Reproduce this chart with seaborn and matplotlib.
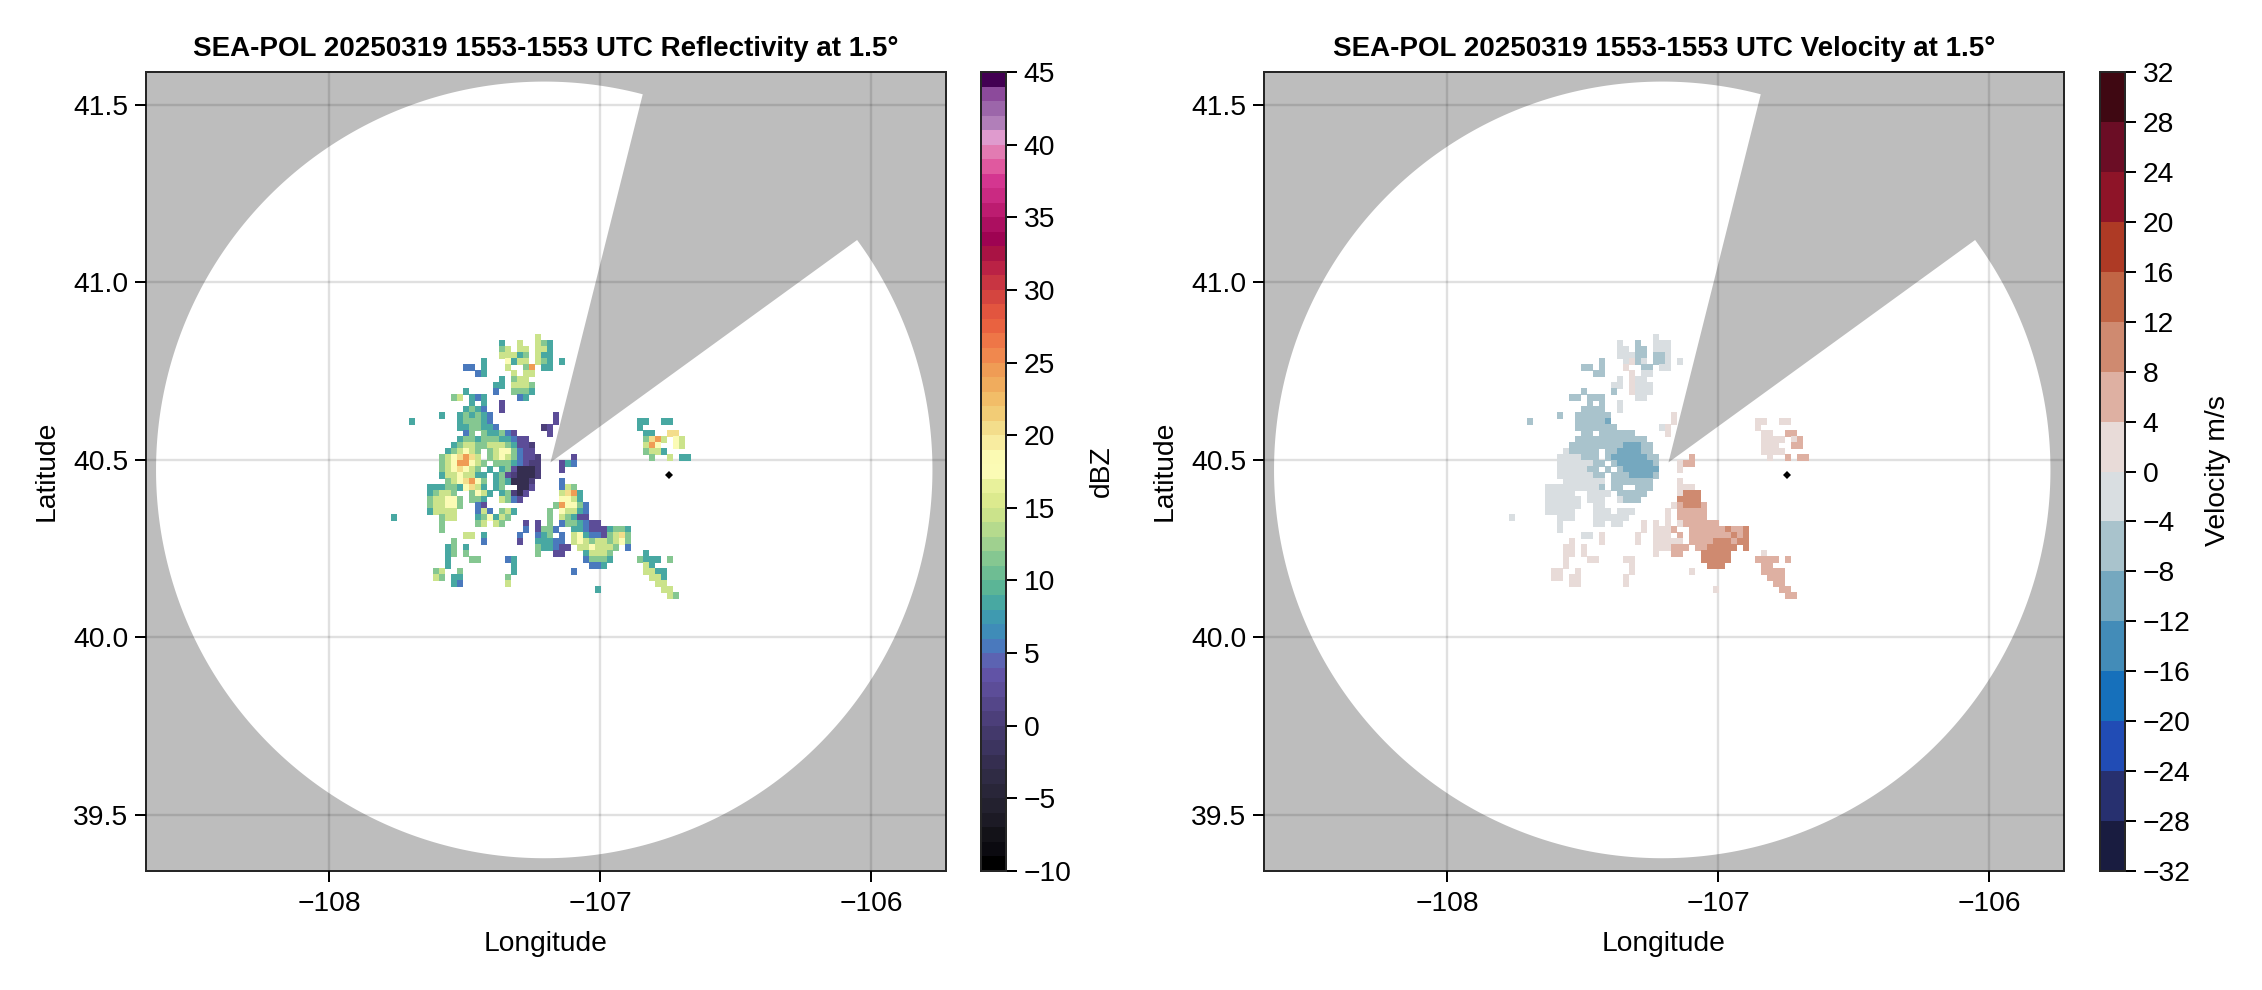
import numpy as np
import pandas as pd
import matplotlib
matplotlib.use("Agg")
import matplotlib.pyplot as plt
from matplotlib.colors import ListedColormap, BoundaryNorm
from matplotlib.cm import ScalarMappable
import seaborn as sns

W, H = 2262, 990
GRAY = "#bdbdbd"

# Echo field: row -> [(first column, level codes), ...]
Z_LEVEL = {"x": -3, "0": 0, "1": 2, "2": 5, "3": 8, "4": 11, "5": 14, "6": 17, "7": 20, "8": 24}
Z_ROWS = {
    0: [(25, "5")],
    1: [(19, "3"), (22, "5"), (25, "543")],
    2: [(19, "45"), (22, "55"), (25, "553")],
    3: [(19, "555"), (22, "34"), (25, "533")],
    4: [(16, "3"), (20, "63"), (22, "55"), (25, "54"), (27, "3"), (29, "3")],
    5: [(13, "22"), (16, "3"), (20, "5"), (23, "48"), (26, "3"), (27, "3")],
    6: [(15, "23"), (21, "5"), (23, "55")],
    7: [(19, "3"), (21, "4"), (22, "55")],
    8: [(18, "33"), (21, "5554")],
    9: [(13, "3"), (18, "2"), (21, "4443")],
    10: [(11, "45"), (14, "323"), (22, "23")],
    11: [(14, "3.3"), (19, "1")],
    12: [(13, "3432"), (19, "1")],
    13: [(9, "3"), (12, "343432"), (28, "1")],
    14: [(4, "3"), (12, "344432"), (28, "1"), (42, "33"), (46, "33")],
    15: [(12, "3344332"), (26, "0"), (27, "1"), (42, "3")],
    16: [(13, "24.433421"), (27, "1"), (43, "33"), (47, "77")],
    17: [(12, "344344433211"), (43, "4785"), (48, "65")],
    18: [(11, "34554455543110"), (43, "586"), (48, "65")],
    19: [(10, "345654.4566421"), (24, "1"), (43, "4553")],
    20: [(9, "4567875.456542110"), (31, "1"), (44, "4"), (47, "5"), (49, "33")],
    21: [(9, "45688654.44432100"), (29, "132")],
    22: [(9, "4567654.3.341xxx0"), (29, "1")],
    23: [(9, "35565533.3410xxx0")],
    24: [(10, "4567864.343xxx0"), (29, "2")],
    25: [(7, "3334"), (11, "436753"), (18, "34"), (22, "xx1"), (29, "254")],
    26: [(7, "34554"), (14, "4653"), (19, "34"), (21, "0x1"), (29, "5783")],
    27: [(7, "455664"), (14, "443"), (19, "5421"), (29, "6653")],
    28: [(7, "455664"), (15, "21"), (28, "486642")],
    29: [(7, "35555"), (15, "252"), (19, "453"), (27, "4"), (29, "65532")],
    30: [(1, "3"), (9, "455"), (15, "346354"), (27, "4"), (29, "5431"), (33, "1")],
    31: [(9, "4"), (15, "45"), (18, "54"), (23, "1"), (25, "1"), (27, "4"), (29, "2"), (30, "443211")],
    32: [(9, "4"), (23, "2"), (25, "1"), (26, "44"), (28, "2"), (31, "332111"), (37, "3443")],
    33: [(13, "55"), (16, "3"), (22, "2"), (25, "2"), (26, "34"), (29, "2"), (31, "56"), (33, "3221"), (37, "4574")],
    34: [(11, "4"), (16, "2"), (22, "1"), (25, "3"), (26, "3322"), (31, "565"), (34, "4554"), (38, "564")],
    35: [(10, "34"), (13, "3"), (25, "4"), (26, "33211"), (32, "5565554"), (40, "2")],
    36: [(10, "34"), (13, "4"), (25, "4"), (28, "11"), (33, "35554"), (43, "3")],
    37: [(10, "3"), (14, "44"), (20, "23"), (33, "24443"), (42, "4333"), (47, "4")],
    38: [(10, "3"), (21, "3"), (34, "223"), (43, "53")],
    39: [(8, "45"), (12, "4"), (21, "3"), (31, "2"), (43, "55"), (45, "33")],
    40: [(8, "54"), (11, "33"), (20, "4"), (44, "553")],
    41: [(11, "32"), (20, "5"), (45, "55")],
    42: [(35, "3"), (46, "55")],
    43: [(47, "54")],
}

V_LEVEL = {"a": -10, "b": -6, "c": -2, "d": 2, "e": 6, "f": 10}
V_ROWS = {
    0: [(25, "c")],
    1: [(19, "c"), (22, "b"), (25, "ccc")],
    2: [(19, "cc"), (22, "bb"), (25, "ccc")],
    3: [(19, "ccc"), (22, "bb"), (25, "bbc")],
    4: [(16, "b"), (20, "cd"), (22, "bc"), (25, "bb"), (27, "c"), (29, "c")],
    5: [(13, "bb"), (16, "b"), (20, "d"), (23, "bb"), (26, "c"), (27, "c")],
    6: [(15, "bb"), (21, "d"), (23, "cc")],
    7: [(19, "c"), (21, "d"), (22, "cc")],
    8: [(18, "cc"), (21, "dccc")],
    9: [(13, "b"), (18, "b"), (21, "dccc")],
    10: [(11, "bb"), (14, "bbb"), (22, "cc")],
    11: [(14, "b.b"), (19, "c")],
    12: [(13, "bbbb"), (19, "c")],
    13: [(9, "b"), (12, "bbbbbb"), (28, "d")],
    14: [(4, "b"), (12, "bbbbba"), (28, "d"), (42, "dd"), (46, "dd")],
    15: [(12, "bbbbbbb"), (26, "c"), (27, "d"), (42, "d")],
    16: [(13, "bb.bbbbbb"), (27, "d"), (43, "dd"), (47, "ee")],
    17: [(12, "bbbbbbbbbbbb"), (43, "dddd"), (48, "de")],
    18: [(11, "bbbbbbbbbaaabb"), (43, "ddd"), (48, "ee")],
    19: [(10, "cbbbbb.bbaaaab"), (24, "b"), (43, "dddd")],
    20: [(9, "ccccbbb.baaaaaabb"), (31, "e"), (44, "d"), (47, "e"), (49, "ee")],
    21: [(9, "ccccccbb.baaaaaab"), (29, "dee")],
    22: [(9, "cccccbb.b.baaaaaa"), (29, "d")],
    23: [(9, "ccccccbb.bbbaaaab")],
    24: [(10, "ccccccc.bbbbbbb"), (29, "d")],
    25: [(7, "cccc"), (11, "cccccb"), (18, "bb"), (22, "bbb"), (29, "ddd")],
    26: [(7, "ccccc"), (14, "cccc"), (19, "bb"), (21, "bbb"), (29, "dfff")],
    27: [(7, "cccccc"), (14, "ccc"), (19, "cbbb"), (29, "ffff")],
    28: [(7, "cccccc"), (15, "cc"), (28, "defffe")],
    29: [(7, "ccccc"), (15, "ccc"), (19, "ccc"), (27, "d"), (29, "eeeee")],
    30: [(1, "c"), (9, "ccc"), (15, "cccccc"), (27, "d"), (29, "eeee"), (33, "e")],
    31: [(9, "c"), (15, "cc"), (18, "cc"), (23, "d"), (25, "d"), (27, "d"), (29, "d"), (30, "eeeeee")],
    32: [(9, "c"), (23, "d"), (25, "d"), (26, "dd"), (28, "e"), (31, "eeeeee"), (37, "feef")],
    33: [(13, "cc"), (16, "d"), (22, "d"), (25, "d"), (26, "dd"), (29, "e"), (31, "ee"), (33, "eeee"), (37, "efef")],
    34: [(11, "d"), (16, "d"), (22, "d"), (25, "d"), (26, "dddd"), (31, "eee"), (34, "efff"), (38, "eff")],
    35: [(10, "dd"), (13, "d"), (25, "d"), (26, "ddeee"), (32, "eefffff"), (40, "f")],
    36: [(10, "dd"), (13, "d"), (25, "d"), (28, "ee"), (33, "fffff"), (43, "d")],
    37: [(10, "d"), (14, "dd"), (20, "dd"), (33, "fffff"), (42, "eeee"), (47, "e")],
    38: [(10, "d"), (21, "d"), (34, "fff"), (43, "ee")],
    39: [(8, "dd"), (12, "d"), (21, "d"), (31, "d"), (43, "ee"), (45, "ee")],
    40: [(8, "dd"), (11, "dd"), (20, "d"), (44, "eee")],
    41: [(11, "dd"), (20, "d"), (45, "ee")],
    42: [(35, "d"), (46, "ee")],
    43: [(47, "ee")],
}

Z_COLORS = ["#000000", "#0b0a10", "#131218", "#1c1a25", "#23212f", "#292639", "#2f2b44", "#352e50", "#3c345f", "#43396b",
            "#4c3f7a", "#544689", "#5c4d98", "#6153a6", "#5c63b2", "#4a79bd", "#3f8cb8", "#3f9ab0", "#48a8a2", "#5bb596",
            "#6ebd93", "#85c791", "#9fd08f", "#b5da8d", "#cbe38b", "#dcea8e", "#e8f19b", "#fbfbb5", "#fbfab3", "#f8eca0",
            "#f3dd8b", "#f2cc76", "#f2bd68", "#f0ac5d", "#ef9c55", "#f0884e", "#ee7647", "#e96240", "#e2553f", "#d4453f",
            "#c83542", "#ba2245", "#a91344", "#9e0352", "#ac0f60", "#bc1c70", "#ca2a82", "#d43690", "#e0599f", "#e27bb2",
            "#df9bce", "#b17fb9", "#9c66aa", "#8c4a9b", "#6d2577", "#420052"]
Z_BOUNDS = list(range(-10, 46))
Z_TICKS = list(range(-10, 46, 5))

V_COLORS = ["#191c40", "#27306f", "#214cb5", "#1670bb", "#438cb8", "#75a8bf", "#a9c3cc", "#d9dee1",
            "#e8dbd8", "#deb0a2", "#cf8a70", "#c16545", "#ae3a25", "#8e1428", "#6b0d25", "#3f0812"]
V_BOUNDS = list(range(-32, 33, 4))
V_TICKS = list(range(-32, 33, 4))

LON_LIM = (-108.675, -105.724)
LAT_LIM = (39.342, 41.593)
LON_TICKS = [-108, -107, -106]
LAT_TICKS = [39.5, 40.0, 40.5, 41.0, 41.5]
SITE = (-106.747, 40.457)
DISK_CENTER = (-107.206, 40.472)
DISK_RADII = (1.432, 1.094)
BLOCK_APEX = (-107.183, 40.493)
BLOCK_AZ = (14.7, 53.7)

# Grid the echo field sits on
CELL_LON, CELL_LAT = 6 / 271.3, 6 / 355.0
GRID_LON0 = -108 + (388 - 329) / 271.3
GRID_LAT0 = 40.5 - (339 - 461.6) / 355.0
FS = 20.3


def field(rows, lookup):
    out = []
    for r, segs in rows.items():
        for start, codes in segs:
            for k, c in enumerate(codes):
                if c != ".":
                    out.append((GRID_LON0 + (start + k) * CELL_LON, GRID_LAT0 - r * CELL_LAT, lookup[c]))
    return pd.DataFrame(out, columns=["lon", "lat", "val"])


sns.set_theme(style="ticks")
plt.rcParams.update({
    "font.family": ["Liberation Sans", "DejaVu Sans"],
    "axes.linewidth": 1.44,
    "axes.unicode_minus": True,
    "text.color": "black", "axes.labelcolor": "black",
    "xtick.color": "black", "ytick.color": "black",
})

fig = plt.figure(figsize=(W / 100, H / 100), dpi=100)


def frac(x0, x1, y0, y1):
    return [x0 / W, 1 - y1 / H, (x1 - x0) / W, (y1 - y0) / H]


def panel(x0, cbx0, title, rows, lookup, colors, bounds, ticks, cb_label, cb_label_x):
    ax = fig.add_axes(frac(x0, x0 + 800, 72, 871))
    ax.set_facecolor(GRAY)
    az = np.radians(np.linspace(BLOCK_AZ[1], BLOCK_AZ[0] + 360, 720))
    px = np.r_[DISK_CENTER[0] + DISK_RADII[0] * np.sin(az), BLOCK_APEX[0]]
    py = np.r_[DISK_CENTER[1] + DISK_RADII[1] * np.cos(az), BLOCK_APEX[1]]
    ax.fill(px, py, color="white", lw=0, zorder=1)
    ax.grid(True, color="black", alpha=0.12, lw=1.7, zorder=2)
    ax.set_axisbelow(False)
    for ln in ax.get_xgridlines() + ax.get_ygridlines():
        ln.set_zorder(2)

    cmap = ListedColormap(colors)
    norm = BoundaryNorm(bounds, cmap.N)
    df = field(rows, lookup)
    sns.scatterplot(data=df, x="lon", y="lat", hue="val", palette=cmap, hue_norm=norm,
                    marker="s", s=21, linewidth=0, legend=False, ax=ax, zorder=3)
    ax.plot(*SITE, marker="D", color="black", ms=4.2, mew=0, zorder=4)

    ax.set_xlim(LON_LIM)
    ax.set_ylim(LAT_LIM)
    ax.set_xticks(LON_TICKS)
    ax.set_yticks(LAT_TICKS)
    ax.set_yticklabels([f"{t:.1f}" for t in LAT_TICKS])
    ax.tick_params(length=7.7, width=1.44, labelsize=FS, pad=5)
    ax.tick_params(axis="x", pad=6.5)
    ax.set_xlabel("")
    ax.set_ylabel("")
    fig.text((x0 + 400) / W, 1 - 944 / H, "Longitude", ha="center", va="center", fontsize=FS)
    fig.text((x0 - 99) / W, 1 - 471 / H, "Latitude", ha="center", va="center", rotation=90, fontsize=FS)
    fig.text((x0 + 400) / W, 1 - 48.5 / H, title, ha="center", va="center", fontsize=20, fontweight="bold")

    cax = fig.add_axes(frac(cbx0, cbx0 + 25, 72, 871))
    cb = fig.colorbar(ScalarMappable(norm=norm, cmap=cmap), cax=cax, ticks=ticks, spacing="proportional")
    cb.minorticks_off()
    cb.outline.set_linewidth(1.44)
    cb.ax.tick_params(length=7.7, width=1.44, labelsize=FS, pad=5)
    fig.text(cb_label_x / W, 1 - 471 / H, cb_label, ha="center", va="center", rotation=90, fontsize=FS)
    return ax


panel(146, 981, "SEA-POL 20250319 1553-1553 UTC Reflectivity at 1.5°", Z_ROWS, Z_LEVEL,
      Z_COLORS, Z_BOUNDS, Z_TICKS, "dBZ", 1102)
panel(1264, 2100, "SEA-POL 20250319 1553-1553 UTC Velocity at 1.5°", V_ROWS, V_LEVEL,
      V_COLORS, V_BOUNDS, V_TICKS, "Velocity m/s", 2218)

fig.savefig("out.png", dpi=100)
